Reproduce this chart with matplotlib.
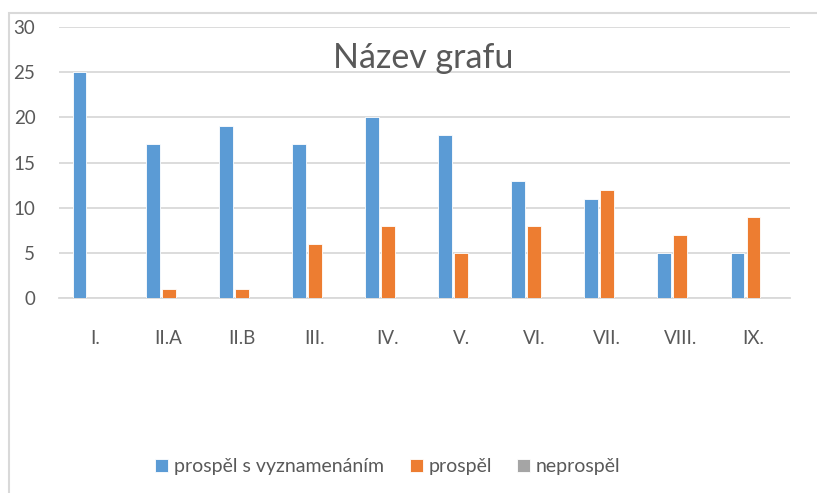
import matplotlib

matplotlib.use("Agg")
import matplotlib.pyplot as plt
import numpy as np
from matplotlib.patches import Rectangle

plt.rcParams["font.family"] = ["Lato", "DejaVu Sans"]

CATEGORIES = ["I.", "II.A", "II.B", "III.", "IV.", "V.", "VI.", "VII.", "VIII.", "IX."]
S_VYZNAMENANIM = [25, 17, 19, 17, 20, 18, 13, 11, 5, 5]
PROSPEL = [0, 1, 1, 6, 8, 5, 8, 12, 7, 9]
NEPROSPEL = [0, 0, 0, 0, 0, 0, 0, 0, 0, 0]
SERIES_NAMES = ["prospěl s vyznamenáním", "prospěl", "neprospěl"]
COLORS = ["#5b9bd5", "#ed7d31", "#a5a5a5"]
Y_TICKS = [0, 5, 10, 15, 20, 25, 30]

TEXT = "#595959"
GRID = "#d9d9d9"


def main():
    fig = plt.figure(figsize=(8.17, 4.93), dpi=100)
    ax = fig.add_axes([0.0722, 0.3955, 0.8948, 0.5497])

    x = np.arange(len(CATEGORIES))
    step = 0.219
    width = 0.19
    series = [S_VYZNAMENANIM, PROSPEL, NEPROSPEL]
    handles = []
    for i, (vals, name, col) in enumerate(zip(series, SERIES_NAMES, COLORS)):
        b = ax.bar(x + (i - 1) * step, vals, width, color=col, label=name,
                   edgecolor="white", linewidth=0.6, zorder=3)
        handles.append(b)

    ax.set_xlim(-0.5, len(CATEGORIES) - 0.5)
    ax.set_ylim(0, 30)
    ax.set_yticks(Y_TICKS)
    ax.set_xticks(x)
    ax.set_xticklabels(CATEGORIES)
    ax.yaxis.grid(True, color=GRID, linewidth=1.3, zorder=0)
    ax.tick_params(axis="both", length=0, labelsize=13.5, colors=TEXT)
    ax.tick_params(axis="y", pad=17)
    ax.tick_params(axis="x", pad=23)
    for side in ["top", "right", "left"]:
        ax.spines[side].set_visible(False)
    ax.spines["bottom"].set_color(GRID)
    ax.spines["bottom"].set_linewidth(1.3)

    fig.text(0.518, 0.882, "Název grafu", ha="center", va="center",
             fontsize=24.5, color=TEXT)

    fig.legend(handles=handles, loc="center", bbox_to_anchor=(0.475, 0.053),
               ncol=3, frameon=False, fontsize=14, labelcolor=TEXT,
               handlelength=0.67, handleheight=0.67, handletextpad=0.3,
               columnspacing=1.3)

    # chart-area border (Excel style)
    fig.patches.append(Rectangle((9 / 817, -0.1), 1.0, 1 - 13 / 493 + 0.1,
                                 transform=fig.transFigure, fill=False,
                                 edgecolor="#d9d9d9", linewidth=1.5))

    fig.savefig("out.png", dpi=100)


if __name__ == "__main__":
    main()
